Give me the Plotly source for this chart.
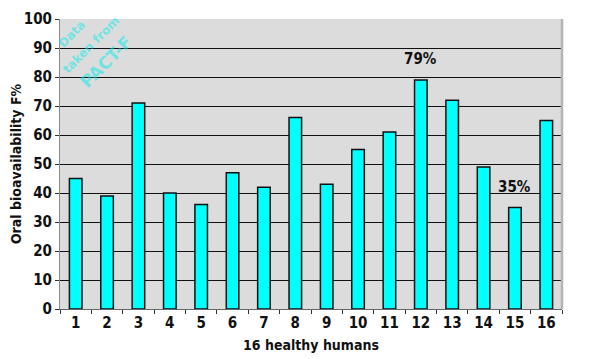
import plotly.graph_objects as go

subjects = [str(i) for i in range(1, 17)]
bioavailability = [45, 39, 71, 40, 36, 47, 42, 66, 43, 55, 61, 79, 72, 49, 35, 65]
y_ticks = [0, 10, 20, 30, 40, 50, 60, 70, 80, 90, 100]
callouts = {"12": "79%", "15": "35%"}

FONT = "DejaVu Sans Condensed"
OFF = 8  # default page body margin of the html page

W, H = 601 - OFF, 359 - OFF
fig = go.Figure()
fig.add_trace(go.Bar(
    x=subjects, y=bioavailability,
    marker=dict(color="#00ffff", line=dict(color="#111111", width=1.5)),
))

for cat, label in callouts.items():
    idx = subjects.index(cat)
    v = bioavailability[idx]
    fig.add_annotation(x=idx, y=v, text=label, showarrow=False,
                       yshift=21, font=dict(family=FONT, size=15, color="#111", weight="bold"))

wm_color = "rgba(0,235,235,0.5)"
for txt, px, py, sz in [("Data", 72, 34, 12), ("taken from", 91, 45, 12), ("PACT-F", 106, 62, 17)]:
    fig.add_annotation(xref="paper", yref="paper", x=(px - 60) / 502, y=(309 - py) / 290,
                       xanchor="center", yanchor="middle",
                       text=txt, showarrow=False, textangle=-45,
                       font=dict(family="DejaVu Sans", size=sz, color=wm_color, weight="bold"))

fig.add_shape(type="line", xref="paper", yref="paper", x0=1, x1=1, y0=0, y1=1,
              line=dict(color="#b4b4b4", width=2.5))

fig.update_layout(
    width=W, height=H,
    margin=dict(l=60 - OFF, r=601 - 562, t=19 - OFF, b=359 - 309, autoexpand=False),
    paper_bgcolor="white", plot_bgcolor="#dcdcdc",
    showlegend=False, bargap=0.6,
    font=dict(family=FONT, size=15, color="#111"),
)
fig.update_xaxes(
    type="category", showgrid=False, ticks="outside", tickson="boundaries",
    ticklen=4, tickcolor="#333", showline=True, linecolor="#666", linewidth=1,
    tickfont=dict(family=FONT, size=15, color="#111", weight="bold"),
    title=dict(text="16 healthy humans", font=dict(family=FONT, size=14, weight="bold"), standoff=9),
    automargin=False,
)
fig.update_yaxes(
    range=[0, 100], tickvals=y_ticks, showgrid=True, gridcolor="#111111", gridwidth=1,
    ticks="outside", ticklen=4, tickcolor="#333", showline=True, linecolor="#888",
    tickfont=dict(family=FONT, size=15, color="#111", weight="bold"),
    title=dict(text="Oral bioavailability F%", font=dict(family=FONT, size=14, weight="bold"), standoff=11),
    zeroline=False, automargin=False,
)

fig.write_html("out.html")
